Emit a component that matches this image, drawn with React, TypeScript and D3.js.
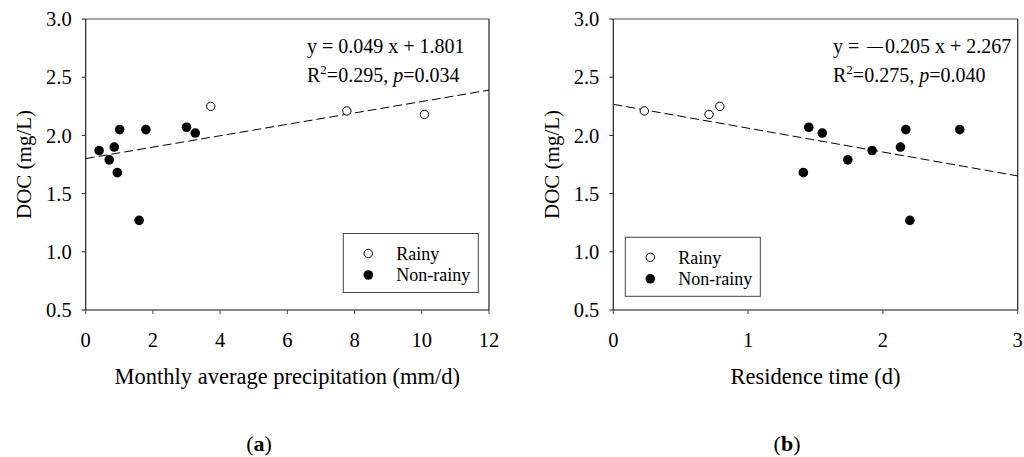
import React from 'react';
import * as d3 from 'd3';

// panel (a): monthly average precipitation (mm/d) vs DOC (mg/L)
const precipRainy = [3.72, 7.77, 10.08];
const docRainyA = [2.25, 2.21, 2.18];
const precipDry = [0.4, 0.7, 0.85, 0.94, 1.01, 1.59, 1.79, 3.0, 3.26];
const docDryA = [1.87, 1.79, 1.9, 1.68, 2.05, 1.27, 2.05, 2.07, 2.02];

// panel (b): residence time (d) vs DOC (mg/L)
const resRainy = [0.23, 0.71, 0.79];
const docRainyB = [2.21, 2.18, 2.25];
const resDry = [1.41, 1.45, 1.55, 1.74, 1.92, 2.13, 2.17, 2.2, 2.57];
const docDryB = [1.68, 2.07, 2.02, 1.79, 1.87, 1.9, 2.05, 1.27, 2.05];

const yTicks = [0.5, 1.0, 1.5, 2.0, 2.5, 3.0];
const xTicksA = [0, 2, 4, 6, 8, 10, 12];
const xTicksB = [0, 1, 2, 3];

const fitA = { slope: 0.049, intercept: 1.801, r2: '0.295', p: '0.034' };
const fitB = { slope: -0.205, intercept: 2.267, r2: '0.275', p: '0.040' };

const font = '"Liberation Serif", "Times New Roman", serif';

const Panel = ({ x0, x1, xDomain, xTicks, rainyX, rainyY, dryX, dryY, fit, eq, eqX, legend, xLabel, yLabelX, tag, tagX }) => {
    const top = 19;
    const bottom = 310;
    const x = d3.scaleLinear().domain(xDomain).range([x0, x1]);
    const y = d3.scaleLinear().domain([0.5, 3]).range([bottom, top]);
    const line = d3.line<number>()
        .x(d => x(d))
        .y(d => y(fit.slope * d + fit.intercept));

    return (
        <g fontFamily={font} fill="#000">
            {/* frame */}
            <line x1={x0} x2={x1} y1={top} y2={top} stroke="#888" strokeWidth={1.5} />
            <line x1={x0} x2={x1} y1={bottom} y2={bottom} stroke="#888" strokeWidth={1.8} />
            <line x1={x0} x2={x0} y1={top} y2={bottom} stroke="#222" strokeWidth={1.2} />
            <line x1={x1} x2={x1} y1={top} y2={bottom} stroke="#222" strokeWidth={1.2} />

            {yTicks.map(t => (
                <g key={t}>
                    <line x1={x0 - 4} x2={x0} y1={y(t)} y2={y(t)} stroke="#222" />
                    <text x={x0 - 14} y={y(t)} dy="0.35em" textAnchor="end" fontSize={20.5}>{t.toFixed(1)}</text>
                </g>
            ))}
            {xTicks.map(t => (
                <g key={t}>
                    <line x1={x(t)} x2={x(t)} y1={bottom} y2={bottom + 4} stroke="#444" />
                    <text x={x(t)} y={347} textAnchor="middle" fontSize={20.5}>{t}</text>
                </g>
            ))}

            <text x={(x0 + x1) / 2} y={384} textAnchor="middle" fontSize={22.5}>{xLabel}</text>
            <text transform={`translate(${yLabelX},${(top + bottom) / 2}) rotate(-90)`} textAnchor="middle" dy="0.35em" fontSize={21}>DOC (mg/L)</text>
            <text x={tagX} y={451} textAnchor="middle" fontSize={22}>(<tspan fontWeight="bold">{tag}</tspan>)</text>

            <path d={line(xDomain)} fill="none" stroke="#000" strokeWidth={1} strokeDasharray="9,4" />

            {dryX.map((d, i) => (
                <circle key={'d' + i} cx={x(d)} cy={y(dryY[i])} r={4.8} fill="#000" />
            ))}
            {rainyX.map((d, i) => (
                <circle key={'r' + i} cx={x(d)} cy={y(rainyY[i])} r={4.2} fill="#fff" stroke="#000" strokeWidth={1} />
            ))}

            <text y={53} fontSize={20}>
                {eq.map((part, i) => (
                    <tspan key={i} x={eqX + part.dx} dy={part.dy || 0} fontSize={part.size || 20}>{part.text}</tspan>
                ))}
            </text>
            <text x={eqX} y={81.5} fontSize={20}>
                R<tspan fontSize={13} dy={-8}>2</tspan><tspan dy={8}>={fit.r2}, </tspan><tspan fontStyle="italic">p</tspan>={fit.p}
            </text>

            <rect x={legend.x} y={legend.y} width={135} height={59} fill="#fff" stroke="#444" strokeWidth={1} />
            <circle cx={legend.x + 25} cy={legend.y + 20} r={4.2} fill="#fff" stroke="#000" />
            <text x={legend.x + 53} y={legend.y + 20} dy="0.35em" fontSize={18}>Rainy</text>
            <circle cx={legend.x + 25} cy={legend.y + 41.5} r={4.8} fill="#000" />
            <text x={legend.x + 53} y={legend.y + 41.5} dy="0.35em" fontSize={18}>Non-rainy</text>
        </g>
    );
};

const App = () => {
    return (
        <svg width={1024} height={457} style={{ position: 'absolute', left: 0, top: 0, background: '#fff' }}>
            <Panel
                x0={85.7} x1={489} xDomain={[0, 12]} xTicks={xTicksA}
                rainyX={precipRainy} rainyY={docRainyA} dryX={precipDry} dryY={docDryA}
                fit={fitA} eq={[{ dx: 0, text: 'y = 0.049 x + 1.801' }]} eqX={307}
                legend={{ x: 343.3, y: 233.5 }}
                xLabel="Monthly average precipitation (mm/d)" yLabelX={24}
                tag="a" tagX={259}
            />
            <Panel
                x0={613.3} x1={1017.7} xDomain={[0, 3]} xTicks={xTicksB}
                rainyX={resRainy} rainyY={docRainyB} dryX={resDry} dryY={docDryB}
                fit={fitB}
                eq={[
                    { dx: 0, text: 'y =' },
                    { dx: 34, dy: -2.5, text: '—', size: 16 },
                    { dx: 52, dy: 2.5, text: '0.205 x + 2.267' },
                ]}
                eqX={833}
                legend={{ x: 625.3, y: 237.3 }}
                xLabel="Residence time (d)" yLabelX={552}
                tag="b" tagX={787}
            />
        </svg>
    );
};

export default App;
